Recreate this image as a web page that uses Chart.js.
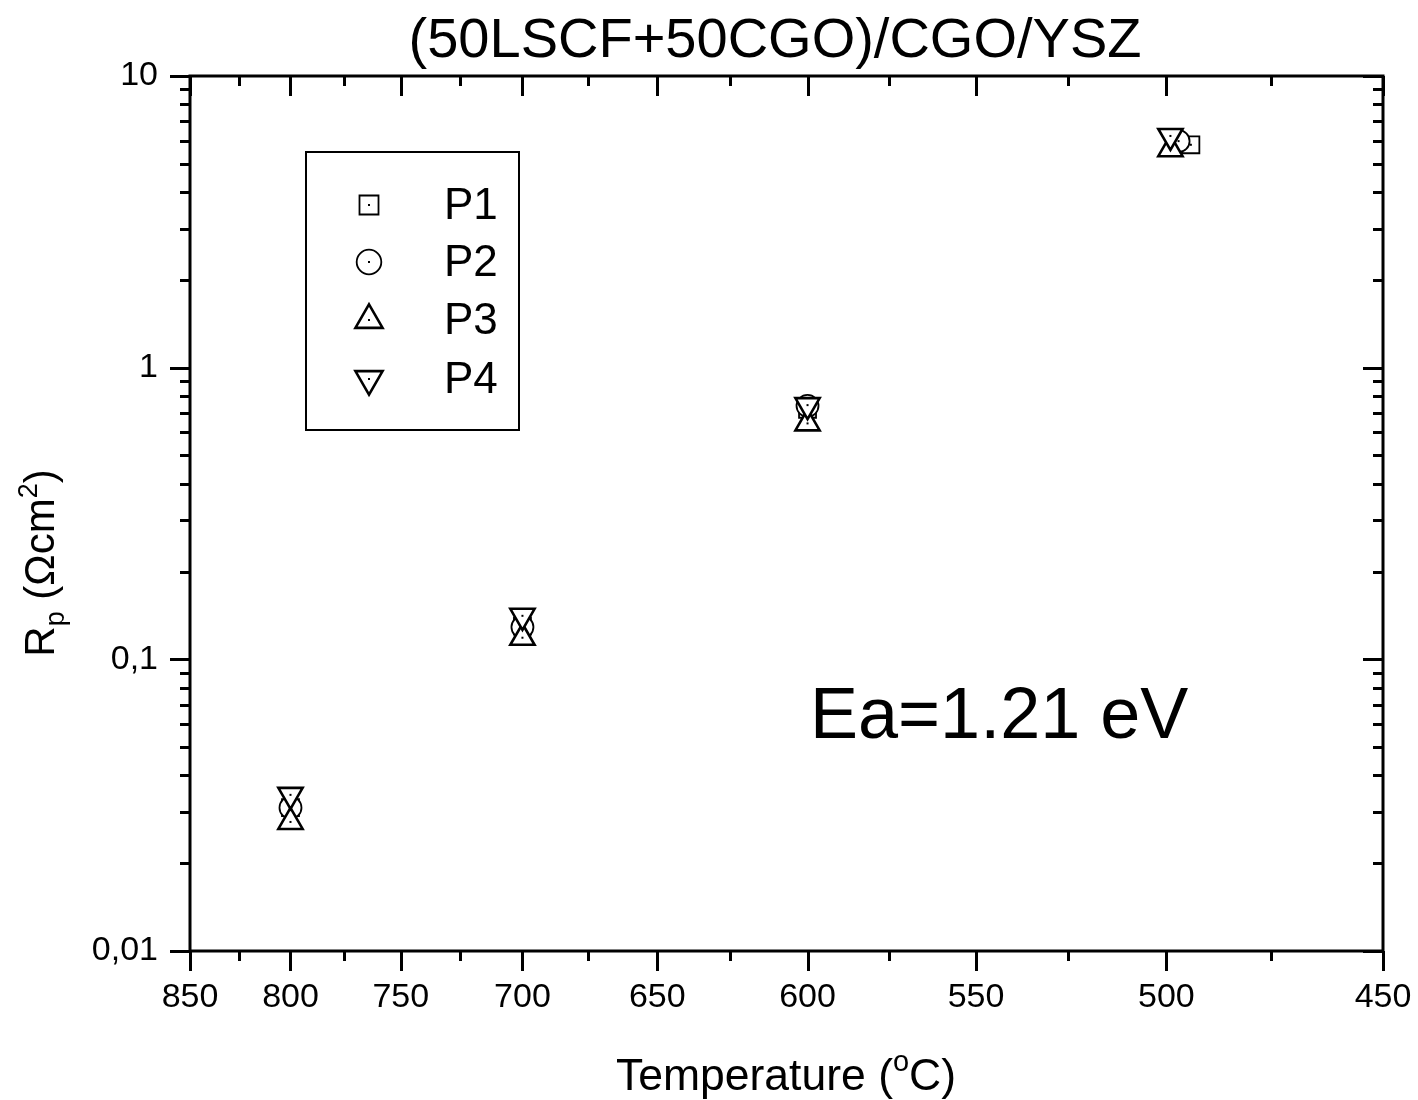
<!DOCTYPE html>
<html>
<head>
<meta charset="utf-8">
<script src="https://cdn.jsdelivr.net/npm/chart.js@4/dist/chart.umd.min.js"></script>
<style>
  body { margin: 0; background: #fff; }
  #wrap { width: 1418px; height: 1100px; }
</style>
</head>
<body>
<div id="wrap"><canvas id="rpChart"></canvas></div>
<script>
// temperatures (°C) of each measurement, per series
const tempP1 = [800, 700, 600, 494];
const tempP2 = [800, 700, 600, 497];
const tempP3 = [800, 700, 600, 499];
const tempP4 = [800, 700, 600, 499];

// polarisation resistance Rp (Ohm cm2)
const rpP1 = [0.031, 0.130, 0.72, 5.81];
const rpP2 = [0.031, 0.129, 0.74, 5.98];
const rpP3 = [0.0277, 0.1186, 0.644, 5.61];
const rpP4 = [0.0343, 0.141, 0.744, 6.23];

// axis ticks
const xTickTemps = [850, 800, 750, 700, 650, 600, 550, 500, 450];
const xMinorTemps = [825, 775, 725, 675, 625, 575, 525, 475];
const yTickValues = [0.01, 0.1, 1, 10];
const yTickLabels = ['0,01', '0,1', '1', '10'];

const FONT = "'Liberation Sans', Arial, sans-serif";
const invT = t => 1000 / (t + 273.15);   // x axis is 1000/T, labelled in °C

const toPoints = (temps, vals) => temps.map((t, i) => ({ x: invT(t), y: vals[i] }));

const seriesStyle = [
  { label: 'P1', pointStyle: 'rect', radius: 12, rotation: 0, bw: 1.8 },
  { label: 'P2', pointStyle: 'circle', radius: 11, rotation: 0, bw: 1.8 },
  { label: 'P3', pointStyle: 'triangle', radius: 14, rotation: 0, bw: 2.6 },
  { label: 'P4', pointStyle: 'triangle', radius: 14, rotation: 180, bw: 2.6 }
];
const seriesData = [toPoints(tempP1, rpP1), toPoints(tempP2, rpP2), toPoints(tempP3, rpP3), toPoints(tempP4, rpP4)];

const datasets = seriesStyle.map((s, i) => ({
  label: s.label,
  data: seriesData[i],
  showLine: false,
  pointStyle: s.pointStyle,
  pointRadius: s.radius,
  pointRotation: s.rotation,
  pointBorderWidth: s.bw,
  pointBorderColor: '#000',
  pointBackgroundColor: '#fff',
  order: 4 - i   // P4 drawn last, on top
}));

function drawMarker(ctx, s, x, y, scale) {
  ctx.save();
  ctx.fillStyle = '#fff';
  ctx.strokeStyle = '#000';
  ctx.lineWidth = s.bw;
  if (Chart.helpers && Chart.helpers.drawPoint) {
    Chart.helpers.drawPoint(ctx, { pointStyle: s.pointStyle, radius: s.radius * scale, rotation: s.rotation, borderWidth: s.bw }, x, y);
  }
  ctx.fillStyle = '#000';
  ctx.fillRect(x - 1, y - 1, 2, 2);
  ctx.restore();
}

// small dot in the middle of every marker (drawn per dataset to keep stacking)
const centerDots = {
  id: 'centerDots',
  afterDatasetDraw(chart, args) {
    const ctx = chart.ctx;
    ctx.save();
    ctx.fillStyle = '#000';
    args.meta.data.forEach(function (el) {
      ctx.fillRect(el.x - 1, el.y - 1, 2, 2);
    });
    ctx.restore();
  }
};

// frame, tick marks, title, axis titles, legend box, annotation
const decorations = {
  id: 'decorations',
  afterDraw(chart) {
    const ctx = chart.ctx;
    const a = chart.chartArea;
    const xs = chart.scales.x, ys = chart.scales.y;
    ctx.save();
    ctx.strokeStyle = '#000';
    ctx.lineWidth = 3;
    ctx.lineCap = 'butt';
    ctx.beginPath();

    // x ticks: bottom outward, top inward
    xTickTemps.forEach(function (t) {
      const px = Math.round(xs.getPixelForValue(invT(t))) + 0.5;
      ctx.moveTo(px, a.bottom); ctx.lineTo(px, a.bottom + 20);
      ctx.moveTo(px, a.top); ctx.lineTo(px, a.top + 20);
    });
    xMinorTemps.forEach(function (t) {
      const px = Math.round(xs.getPixelForValue(invT(t))) + 0.5;
      ctx.moveTo(px, a.bottom); ctx.lineTo(px, a.bottom + 10);
      ctx.moveTo(px, a.top); ctx.lineTo(px, a.top + 10);
    });
    // y ticks: left outward, right inward
    yTickValues.forEach(function (v) {
      const py = Math.round(ys.getPixelForValue(v)) + 0.5;
      ctx.moveTo(a.left, py); ctx.lineTo(a.left - 20, py);
      ctx.moveTo(a.right, py); ctx.lineTo(a.right - 20, py);
    });
    for (let d = 0.01; d < 10; d *= 10) {
      for (let k = 2; k <= 9; k++) {
        const py = Math.round(ys.getPixelForValue(d * k)) + 0.5;
        ctx.moveTo(a.left, py); ctx.lineTo(a.left - 10, py);
        ctx.moveTo(a.right, py); ctx.lineTo(a.right - 10, py);
      }
    }
    ctx.stroke();
    ctx.strokeRect(a.left, a.top, a.right - a.left, a.bottom - a.top);

    ctx.fillStyle = '#000';
    ctx.textBaseline = 'alphabetic';

    // title
    ctx.font = '56px ' + FONT;
    ctx.textAlign = 'center';
    ctx.fillText('(50LSCF+50CGO)/CGO/YSZ', 775, 57);

    // x axis title with superscript o
    ctx.textAlign = 'left';
    const big = '44.5px ' + FONT, small = '29px ' + FONT;
    ctx.font = big; const w1 = ctx.measureText('Temperature (').width; const w3 = ctx.measureText('C)').width;
    ctx.font = small; const w2 = ctx.measureText('o').width;
    let x0 = 786 - (w1 + w2 + w3) / 2;
    ctx.font = big; ctx.fillText('Temperature (', x0, 1090);
    ctx.font = small; ctx.fillText('o', x0 + w1, 1071);
    ctx.font = big; ctx.fillText('C)', x0 + w1 + w2, 1090);

    // y axis title R_p (Ωcm^2), rotated
    ctx.save();
    ctx.translate(54, 563);
    ctx.rotate(-Math.PI / 2);
    const yb = '42px ' + FONT, ysml = '27px ' + FONT;
    const parts = [
      { t: 'R', f: yb, dy: 0 },
      { t: 'p', f: ysml, dy: 10 },
      { t: ' (\u03A9cm', f: yb, dy: 0 },
      { t: '2', f: ysml, dy: -17 },
      { t: ')', f: yb, dy: 0 }
    ];
    let tot = 0;
    parts.forEach(function (p) { ctx.font = p.f; p.w = ctx.measureText(p.t).width; tot += p.w; });
    let cx = -tot / 2;
    parts.forEach(function (p) { ctx.font = p.f; ctx.fillText(p.t, cx, p.dy); cx += p.w; });
    ctx.restore();

    // annotation
    ctx.font = '72px ' + FONT;
    ctx.fillText('Ea=1.21 eV', 810, 738);

    // legend box
    ctx.lineWidth = 2;
    ctx.strokeRect(306, 152, 213, 278);
    const rows = [205, 262, 320, 379];
    ctx.font = '44px ' + FONT;
    ctx.textBaseline = 'middle';
    seriesStyle.forEach(function (s, i) {
      drawMarker(ctx, s, 369, rows[i], 1.12);
      ctx.fillStyle = '#000';
      ctx.fillText(s.label, 444, rows[i] + 2);
    });
    ctx.restore();
  }
};

new Chart(document.getElementById('rpChart'), {
  type: 'scatter',
  data: { datasets: datasets },
  options: {
    responsive: true,
    maintainAspectRatio: false,
    animation: false,
    layout: { padding: { top: 76, right: 35, left: 0, bottom: 0 } },
    plugins: { legend: { display: false }, tooltip: { enabled: false }, title: { display: false } },
    scales: {
      x: {
        type: 'linear',
        min: invT(850),
        max: invT(450),
        grid: { display: false, drawTicks: false },
        border: { display: false },
        afterBuildTicks: function (scale) {
          scale.ticks = xTickTemps.map(t => ({ value: invT(t) }));
        },
        afterFit: function (scale) {
          scale.height = 149;
          scale.paddingLeft = 0;
          scale.paddingRight = 0;
        },
        ticks: {
          autoSkip: false,
          maxRotation: 0,
          padding: 26,
          color: '#000',
          font: { family: FONT, size: 34 },
          callback: function (value) { return String(Math.round(1000 / value - 273.15)); }
        }
      },
      y: {
        type: 'logarithmic',
        min: 0.01,
        max: 10,
        grid: { display: false, drawTicks: false },
        border: { display: false },
        afterBuildTicks: function (scale) {
          scale.ticks = yTickValues.map(v => ({ value: v, major: true }));
        },
        afterFit: function (scale) {
          scale.width = 190;
          scale.paddingTop = 0;
          scale.paddingBottom = 0;
        },
        ticks: {
          autoSkip: false,
          padding: 32,
          color: '#000',
          font: { family: FONT, size: 34 },
          callback: function (value, index) { return yTickLabels[index]; }
        }
      }
    }
  },
  plugins: [centerDots, decorations]
});
</script>
</body>
</html>
